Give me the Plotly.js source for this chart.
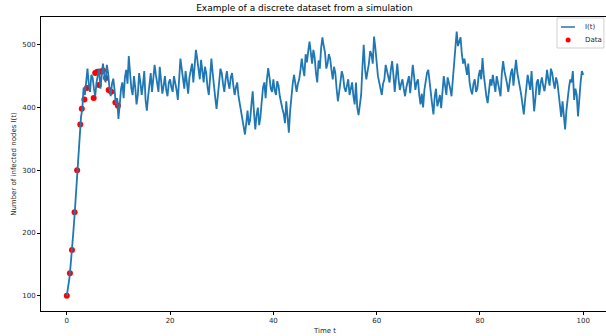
<!DOCTYPE html>
<html>
<head>
<meta charset="utf-8">
<script src="https://cdn.plot.ly/plotly-3.0.1.min.js"></script>
<style>html,body{margin:0;padding:0;background:#fff;overflow:hidden;}#chart{width:609px;height:336px;}</style>
</head>
<body>
<div id="chart"></div>
<script>
const simTime = [];
for (let i = 0; i <= 400; i++) simTime.push(i * 0.25);
const simInfected = [
  100,112,128,150,170,200,228,262,298,335,368,385,398,432,420,445,462,438,425,452,448,430,418,440,452,462,430,455,470,452,440,468,455,432,418,438,446,428,405,415,
  382,405,430,440,415,448,460,438,482,455,430,420,450,432,405,420,455,440,420,436,458,412,395,418,440,455,425,445,468,452,440,425,465,445,422,435,450,428,418,440,
  445,432,425,450,440,428,412,440,478,462,445,430,458,440,422,448,460,470,440,465,492,478,458,445,476,455,440,465,455,432,420,448,478,455,430,415,398,425,440,462,
  455,438,425,445,458,440,430,448,455,435,420,432,440,418,405,398,385,370,357,375,395,372,380,405,426,392,365,388,400,372,385,410,432,440,415,445,463,448,430,425,
  445,428,420,442,435,418,405,398,390,375,410,380,360,395,420,438,452,440,425,438,445,460,478,462,450,485,472,490,505,488,470,492,480,455,440,475,462,495,512,498,
  488,462,470,485,478,460,445,465,455,430,410,425,440,458,450,432,425,438,445,420,430,440,418,405,440,400,388,402,420,465,500,462,445,458,470,490,485,470,513,495,
  470,450,440,432,420,438,445,468,458,448,440,460,474,452,425,448,470,445,428,438,445,430,418,432,440,450,423,445,468,450,428,440,445,420,405,422,400,428,445,455,
  460,438,420,405,389,418,430,402,410,420,399,430,450,435,420,448,440,430,418,445,470,500,521,498,505,512,485,470,478,460,452,470,440,428,421,438,445,425,430,450,
  460,445,479,452,430,418,407,428,445,435,452,438,425,450,440,428,418,455,474,458,450,438,425,445,455,462,435,458,476,455,440,432,420,408,389,412,430,452,440,428,
  458,420,394,415,440,445,420,438,448,435,426,440,460,445,435,462,455,440,430,448,440,422,400,385,410,380,365,395,420,432,445,440,458,412,430,420,386,418,440,458,
  452
];
// Discrete observations (red points)
const dataTime = [0, 0.6, 1.0, 1.5, 2.0, 2.6, 2.9, 3.4, 3.9, 5.2, 5.5, 5.9, 6.2, 6.6, 7.0, 7.6, 8.1, 8.6, 9.4, 9.9];
const dataInfected = [100, 136, 173, 233, 300, 373, 398, 413, 431, 415, 455, 457, 436, 457, 459, 447, 428, 425, 408, 403];
const xTicks = [0, 20, 40, 60, 80, 100];
const yTicks = [100, 200, 300, 400, 500];
const legendLabels = ['I(t)', 'Data'];

const blue = '#1f77b4';
const font = {family: 'DejaVu Sans, sans-serif', size: 7, color: '#262626'};
const traces = [
  {x: dataTime, y: dataInfected, type: 'scatter', mode: 'markers', name: legendLabels[1],
   marker: {color: 'red', size: 6}, showlegend: false},
  {x: simTime, y: simInfected, type: 'scatter', mode: 'lines', name: legendLabels[0],
   line: {color: blue, width: 1.8}, showlegend: false}
];
const axisBase = {showline: true, mirror: true, linecolor: '#000', linewidth: 1,
  ticks: 'outside', ticklen: 3, tickwidth: 1, tickcolor: '#000', showgrid: false,
  zeroline: false, tickfont: font};
// Legend drawn in paper coordinates (matplotlib style box)
const shapes = [
  {type: 'rect', xref: 'paper', yref: 'paper', x0: 0.9085, x1: 0.991, y0: 0.8946, y1: 0.9966,
   line: {color: '#d0d0d0', width: 1}, fillcolor: 'rgba(255,255,255,0.8)'},
  {type: 'line', xref: 'paper', yref: 'paper', x0: 0.9155, x1: 0.940, y0: 0.966, y1: 0.966,
   line: {color: blue, width: 1.5}},
  {type: 'circle', xref: 'paper', yref: 'paper', x0: 0.9236, x1: 0.9324, y0: 0.9133, y1: 0.9303,
   line: {color: 'red', width: 0}, fillcolor: 'red'}
];
const annotations = [
  {xref: 'paper', yref: 'paper', x: 0.954, y: 0.966, text: legendLabels[0], showarrow: false,
   xanchor: 'left', yanchor: 'middle', font: font},
  {xref: 'paper', yref: 'paper', x: 0.954, y: 0.9218, text: legendLabels[1], showarrow: false,
   xanchor: 'left', yanchor: 'middle', font: font}
];
const layout = {
  width: 609, height: 336,
  margin: {l: 41, r: 0, t: 17, b: 25},
  paper_bgcolor: '#fff', plot_bgcolor: '#fff',
  font: font, showlegend: false,
  title: {text: 'Example of a discrete dataset from a simulation', font: {family: 'DejaVu Sans, sans-serif', size: 9, color: '#000'},
    x: 0.5, xanchor: 'center', y: 0.985, yanchor: 'top'},
  xaxis: Object.assign({}, axisBase, {range: [-5, 105], tickvals: xTicks,
    title: {text: 'Time t', font: font, standoff: 3}}),
  yaxis: Object.assign({}, axisBase, {range: [75.7, 544.3], tickvals: yTicks,
    title: {text: 'Number of infected nodes I(t)', font: font, standoff: 4}}),
  shapes: shapes, annotations: annotations
};
Plotly.newPlot('chart', traces, layout, {staticPlot: true, displayModeBar: false});
</script>
</body>
</html>
